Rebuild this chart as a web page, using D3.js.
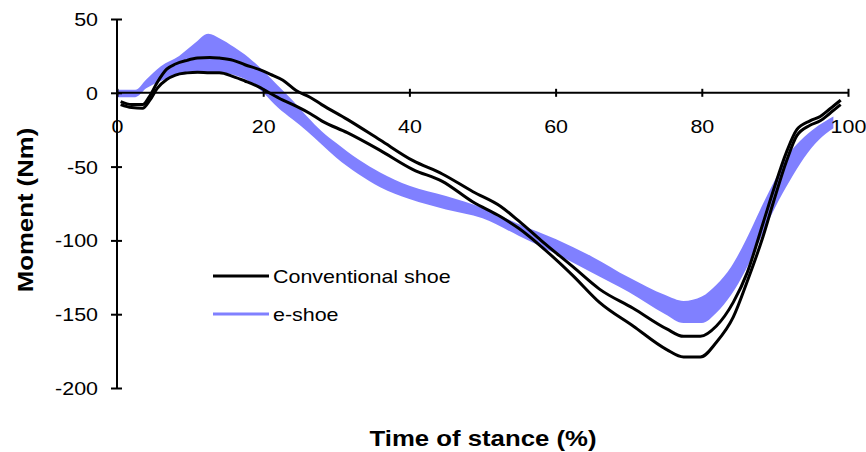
<!DOCTYPE html>
<html>
<head>
<meta charset="utf-8">
<script src="https://cdn.jsdelivr.net/npm/d3@7"></script>
<style>
  body { margin: 0; background: #fff; }
  svg { display: block; font-family: Arial, "Liberation Sans", sans-serif; }
</style>
</head>
<body>
<svg id="chart" width="866" height="452"></svg>
<script>
// conventional shoe: two traces (upper / lower)
const convX = [0.5, 2, 3.5, 4.5, 5.5, 6.8, 8, 9.6, 11, 12.7, 14, 15.9, 17.5, 19.6, 21, 22.7, 24.5, 26.4, 28, 31.5,
    36, 40.5, 44.5, 48.7, 52.5, 55, 58, 62.4, 66, 70.6, 75.2, 77.5, 79.8, 82, 84.3, 86.2, 88.4, 89.8, 91.6, 93,
    94.8, 96.2, 97.5, 99];
const convUpper = [-6, -8, -8, -2, 7, 16, 19.5, 22, 23.5, 24, 23.5, 22, 19, 15.5, 12.5, 8.5, 1.5, -3, -8, -18,
    -32, -46, -55, -67, -77, -87, -100, -118, -133, -146, -160, -165, -165, -158, -142, -122, -88, -66, -40, -25,
    -19, -16, -11, -5];
const convLower = [-8, -10, -10.5, -5, 3, 9, 12, 13.5, 14, 13.5, 13.5, 11, 8, 3.5, -0.5, -5, -9, -14, -19, -27,
    -39, -52, -60, -74, -84, -92, -104, -124, -142, -158, -174, -179, -179, -169, -152, -128, -97, -74, -46, -29,
    -22, -19, -14, -8];

// e-shoe: band between upper and lower traces
const eshoeX = [0, 2.5, 4, 6, 8.5, 10.5, 12.5, 14, 16, 18, 20, 22, 24, 26, 28, 30, 33, 36, 40, 45, 50, 55, 60, 65,
    70, 75, 77.5, 80, 82, 84, 86, 88, 90, 92, 94, 96, 98];
const eshoeUpper = [2, 2, 9, 18, 25, 33, 40, 37, 31, 24, 15, 5, -5, -16, -26, -34, -45, -54, -63, -70, -78, -89,
    -99, -111, -125, -137, -141, -138, -130, -118, -100, -79, -59, -41, -30, -22, -16];
const eshoeLower = [-3, -3, 3, 8, 12, 13, 14, 14, 12, 8, 0, -10, -18, -26, -35, -44, -55, -64, -72, -79, -85, -97,
    -109, -122, -135, -150, -156, -156, -149, -137, -120, -99, -78, -60, -44, -32, -24];

const xTicks = [0, 20, 40, 60, 80, 100];
const yTicks = [-200, -150, -100, -50, 0, 50];
const seriesNames = ['Conventional shoe', 'e-shoe'];

const BLUE = '#8080ff';
const STRETCH = 1.16;   // the original text is a little wide

const svg = d3.select('#chart');

const xScale = d3.scaleLinear().domain([0, 100]).range([117, 848]);
const yScale = d3.scaleLinear().domain([-200, 50]).range([388, 19]);

// e-shoe band
const band = d3.area()
    .x(d => xScale(d.x))
    .y0(d => yScale(d.lo))
    .y1(d => yScale(d.hi))
    .curve(d3.curveMonotoneX);

svg.append('path')
    .datum(eshoeX.map((x, i) => ({x: x, hi: eshoeUpper[i], lo: eshoeLower[i]})))
    .attr('d', band)
    .attr('fill', BLUE);

// axes (plain hyphen minus, like the original)
const yAxis = d3.axisLeft(yScale).tickValues(yTicks).tickSize(6).tickPadding(0)
    .tickFormat(d => String(d));
const gy = svg.append('g')
    .attr('transform', `translate(${xScale(0)},0)`)
    .call(yAxis);

const xAxis = d3.axisBottom(xScale).tickValues(xTicks).tickSize(4).tickPadding(0)
    .tickFormat(d => String(d));
const gx = svg.append('g')
    .attr('transform', `translate(0,${yScale(0)})`)
    .call(xAxis);

[gx, gy].forEach(g => {
    g.select('.domain').attr('stroke', '#000').attr('stroke-width', 2);
    g.selectAll('.tick line').attr('stroke', '#000').attr('stroke-width', 2);
    g.selectAll('text').attr('font-size', 18.5).attr('fill', '#000').attr('font-family', null);
});
gy.select('.domain').attr('d', `M0,${yScale(50)}V${yScale(-200)}`);
gx.select('.domain').attr('d', `M${xScale(0)},0H${xScale(100)}`);
gy.selectAll('.tick line').attr('x1', 5);
gx.selectAll('.tick line').attr('y1', -4);
gy.selectAll('.tick text')
    .attr('x', -19 / STRETCH)
    .attr('dy', '0.35em')
    .attr('transform', `scale(${STRETCH},1)`);
gx.selectAll('.tick text')
    .attr('y', 40)
    .attr('dy', 0)
    .attr('transform', `scale(${STRETCH},1)`);

// conventional shoe traces
const line = d3.line()
    .x(d => xScale(d[0]))
    .y(d => yScale(d[1]))
    .curve(d3.curveMonotoneX);

[convUpper, convLower].forEach(vals => {
    svg.append('path')
        .datum(convX.map((x, i) => [x, vals[i]]))
        .attr('d', line)
        .attr('fill', 'none')
        .attr('stroke', '#000')
        .attr('stroke-width', 3)
        .attr('stroke-linejoin', 'round');
});

// legend
const legend = svg.append('g').attr('transform', 'translate(213,276)');
seriesNames.forEach((name, i) => {
    const row = legend.append('g').attr('transform', `translate(0,${i * 38})`);
    row.append('line')
        .attr('x1', 0).attr('x2', 56)
        .attr('stroke', i === 0 ? '#000' : BLUE)
        .attr('stroke-width', 3);
    row.append('text')
        .attr('x', 60 / STRETCH)
        .attr('y', 7)
        .attr('transform', `scale(${STRETCH},1)`)
        .attr('font-size', 18.5)
        .text(name);
});

// axis titles
svg.append('text')
    .attr('transform', `translate(483,446) scale(1.12,1)`)
    .attr('text-anchor', 'middle')
    .attr('font-size', 23)
    .attr('font-weight', 'bold')
    .text('Time of stance (%)');

svg.append('text')
    .attr('transform', 'translate(33,210) rotate(-90) scale(1.12,1)')
    .attr('text-anchor', 'middle')
    .attr('font-size', 23)
    .attr('font-weight', 'bold')
    .text('Moment (Nm)');
</script>
</body>
</html>
